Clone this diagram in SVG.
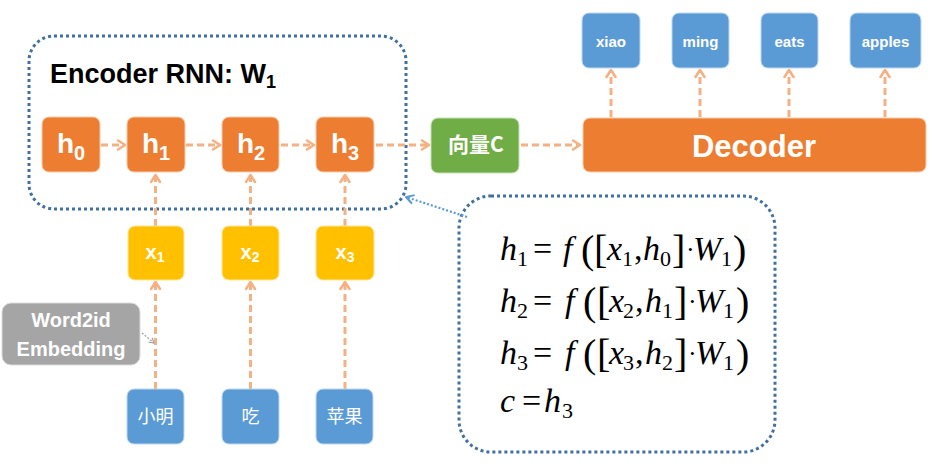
<svg xmlns="http://www.w3.org/2000/svg" width="943" height="466" viewBox="0 0 943 466">
<defs>
<marker id="oa" viewBox="0 0 12 12" refX="10" refY="6" markerWidth="12" markerHeight="12" markerUnits="userSpaceOnUse" orient="auto">
<path d="M3,1.5 L10,6 L3,10.5" fill="none" stroke="#F4B183" stroke-width="2.6" stroke-linecap="round" stroke-linejoin="round"/>
</marker>
<marker id="ba" viewBox="0 0 12 12" refX="10" refY="6" markerWidth="12" markerHeight="12" markerUnits="userSpaceOnUse" orient="auto">
<path d="M3,2 L10,6 L3,10" fill="none" stroke="#5B9BD5" stroke-width="2" stroke-linecap="round" stroke-linejoin="round"/>
</marker>
<marker id="ga" viewBox="0 0 10 10" refX="8" refY="5" markerWidth="8" markerHeight="8" markerUnits="userSpaceOnUse" orient="auto">
<path d="M2,1.5 L8,5 L2,8.5" fill="none" stroke="#A5A5A5" stroke-width="1.5"/>
</marker>
</defs>
<style>
.or{fill:#ED7D31;stroke:#F8CBAD;stroke-width:1}
.ye{fill:#FFC000;stroke:#FFE699;stroke-width:1}
.bl{fill:#5B9BD5;stroke:#BDD7EE;stroke-width:1}
.gr{fill:#70AD47;stroke:#C5E0B4;stroke-width:1}
.gy{fill:#A5A5A5;stroke:#DBDBDB;stroke-width:1}
.lab{font-family:"Liberation Sans","Noto Sans",Arial,sans-serif;font-weight:bold;fill:#fff;text-anchor:middle}
.cjk{font-family:"Noto Sans CJK SC","Noto Sans",sans-serif;fill:#fff;text-anchor:middle}
.dash{fill:none;stroke:#F4B183;stroke-width:3;stroke-dasharray:7 4;marker-end:url(#oa)}
.dot{fill:none;stroke:#41719C;stroke-width:3;stroke-dasharray:3 3}
.m{font-family:"Liberation Serif","Times New Roman",serif;font-size:34px;fill:#000}
.i{font-style:italic}
.s{font-size:22px}
.p{font-size:40px}
.d{font-size:26px}
</style>

<g id="encoder-frame">
<rect x="29" y="36" width="377" height="173" rx="25" class="dot"/>
<text x="50" y="83" font-family="Liberation Sans,Arial,sans-serif" font-weight="bold" font-size="27" fill="#000">Encoder RNN: W<tspan font-size="18" dy="5">1</tspan></text>
</g>

<g id="formula-box">
<rect x="459" y="196" width="316" height="256" rx="32" class="dot"/>
<text class="m"><tspan class="i" x="500" y="260">h</tspan><tspan class="s" x="517" y="266">1</tspan><tspan x="533" y="260">=</tspan><tspan class="i" x="563" y="260">f</tspan><tspan class="p" x="581" y="263">(</tspan><tspan class="p" x="594" y="263">[</tspan><tspan class="i" x="607" y="260">x</tspan><tspan class="s" x="622" y="266">1</tspan><tspan x="634" y="260">,</tspan><tspan class="i" x="643" y="260">h</tspan><tspan class="s" x="660" y="266">0</tspan><tspan class="p" x="672" y="263">]</tspan><tspan class="d" x="686" y="258">·</tspan><tspan class="i" x="693" y="260">W</tspan><tspan class="s" x="721" y="266">1</tspan><tspan class="p" x="733" y="263">)</tspan></text>
<text class="m"><tspan class="i" x="500" y="312">h</tspan><tspan class="s" x="517" y="318">2</tspan><tspan x="533" y="312">=</tspan><tspan class="i" x="565" y="312">f</tspan><tspan class="p" x="583" y="315">(</tspan><tspan class="p" x="597" y="315">[</tspan><tspan class="i" x="609" y="312">x</tspan><tspan class="s" x="623" y="318">2</tspan><tspan x="635" y="312">,</tspan><tspan class="i" x="645" y="312">h</tspan><tspan class="s" x="662" y="318">1</tspan><tspan class="p" x="674" y="315">]</tspan><tspan class="d" x="688" y="310">·</tspan><tspan class="i" x="695" y="312">W</tspan><tspan class="s" x="723" y="318">1</tspan><tspan class="p" x="736" y="315">)</tspan></text>
<text class="m"><tspan class="i" x="500" y="364">h</tspan><tspan class="s" x="517" y="370">3</tspan><tspan x="533" y="364">=</tspan><tspan class="i" x="565" y="364">f</tspan><tspan class="p" x="583" y="367">(</tspan><tspan class="p" x="597" y="367">[</tspan><tspan class="i" x="609" y="364">x</tspan><tspan class="s" x="623" y="370">3</tspan><tspan x="635" y="364">,</tspan><tspan class="i" x="645" y="364">h</tspan><tspan class="s" x="662" y="370">2</tspan><tspan class="p" x="674" y="367">]</tspan><tspan class="d" x="688" y="362">·</tspan><tspan class="i" x="695" y="364">W</tspan><tspan class="s" x="723" y="370">1</tspan><tspan class="p" x="736" y="367">)</tspan></text>
<text class="m"><tspan class="i" x="500" y="412">c</tspan><tspan x="522" y="412">=</tspan><tspan class="i" x="544" y="412">h</tspan><tspan class="s" x="562" y="418">3</tspan></text>
</g>

<g id="connectors">
<line x1="101" y1="145" x2="125" y2="145" class="dash"/>
<line x1="186" y1="145" x2="220" y2="145" class="dash"/>
<line x1="281" y1="145" x2="314" y2="145" class="dash"/>
<line x1="376" y1="145" x2="429" y2="145" class="dash"/>
<line x1="521" y1="145" x2="580" y2="145" class="dash"/>
<line x1="155.5" y1="226" x2="155.5" y2="175" class="dash"/>
<line x1="250.5" y1="226" x2="250.5" y2="175" class="dash"/>
<line x1="345" y1="226" x2="345" y2="175" class="dash"/>
<line x1="155.5" y1="389" x2="155.5" y2="282" class="dash"/>
<line x1="250.5" y1="389" x2="250.5" y2="282" class="dash"/>
<line x1="345" y1="389" x2="345" y2="282" class="dash"/>
<line x1="611" y1="117" x2="611" y2="70" class="dash"/>
<line x1="700" y1="117" x2="700" y2="70" class="dash"/>
<line x1="789" y1="117" x2="789" y2="70" class="dash"/>
<line x1="885" y1="117" x2="885" y2="70" class="dash"/>
<line x1="467" y1="217" x2="406" y2="197" fill="none" stroke="#5B9BD5" stroke-width="2.2" stroke-dasharray="2 2" marker-end="url(#ba)"/>
<line x1="142" y1="333" x2="154" y2="343" fill="none" stroke="#A5A5A5" stroke-width="1.3" stroke-dasharray="2 1.5" marker-end="url(#ga)"/>
</g>

<g id="h0"><rect x="42" y="117" width="58" height="55" rx="7" class="or"/><text class="lab" x="71" y="153" font-size="28">h<tspan font-size="20" dy="7">0</tspan></text></g>
<g id="h1"><rect x="127" y="117" width="58" height="55" rx="7" class="or"/><text class="lab" x="156" y="153" font-size="28">h<tspan font-size="20" dy="7">1</tspan></text></g>
<g id="h2"><rect x="222" y="117" width="57" height="55" rx="7" class="or"/><text class="lab" x="251" y="153" font-size="28">h<tspan font-size="20" dy="7">2</tspan></text></g>
<g id="h3"><rect x="316" y="117" width="58" height="55" rx="7" class="or"/><text class="lab" x="345" y="153" font-size="28">h<tspan font-size="20" dy="7">3</tspan></text></g>

<g id="vecC"><rect x="431" y="118" width="88" height="55" rx="7" class="gr"/><text class="cjk" x="476" y="152" font-size="21" font-weight="bold">向量C</text></g>
<g id="decoder"><rect x="583" y="118" width="343" height="54" rx="7" class="or"/><text class="lab" x="754" y="157" font-size="31">Decoder</text></g>

<g id="out-xiao"><rect x="582" y="13" width="58" height="55" rx="7" class="bl"/><text class="lab" x="611" y="47" font-size="15">xiao</text></g>
<g id="out-ming"><rect x="672" y="13" width="57" height="55" rx="7" class="bl"/><text class="lab" x="700.5" y="47" font-size="15">ming</text></g>
<g id="out-eats"><rect x="761" y="13" width="57" height="55" rx="7" class="bl"/><text class="lab" x="789.5" y="47" font-size="15">eats</text></g>
<g id="out-apples"><rect x="850" y="13" width="71" height="55" rx="7" class="bl"/><text class="lab" x="885.5" y="47" font-size="15">apples</text></g>

<g id="x1"><rect x="128" y="226" width="56" height="54" rx="7" class="ye"/><text class="lab" x="155" y="259" font-size="20">x<tspan font-size="14" dy="3">1</tspan></text></g>
<g id="x2"><rect x="222" y="226" width="57" height="54" rx="7" class="ye"/><text class="lab" x="250" y="259" font-size="20">x<tspan font-size="14" dy="3">2</tspan></text></g>
<g id="x3"><rect x="316" y="226" width="58" height="54" rx="7" class="ye"/><text class="lab" x="345" y="259" font-size="20">x<tspan font-size="14" dy="3">3</tspan></text></g>

<g id="w-xiaoming"><rect x="127" y="389" width="57" height="55" rx="7" class="bl"/><text class="cjk" x="155.5" y="423" font-size="18">小明</text></g>
<g id="w-chi"><rect x="222" y="389" width="57" height="55" rx="7" class="bl"/><text class="cjk" x="250.5" y="423" font-size="18">吃</text></g>
<g id="w-pingguo"><rect x="316" y="389" width="57" height="55" rx="7" class="bl"/><text class="cjk" x="344.5" y="423" font-size="18">苹果</text></g>

<g id="word2id"><rect x="2" y="303" width="138" height="62" rx="9" class="gy"/><text class="lab" x="71" y="327" font-size="20">Word2id</text><text class="lab" x="71" y="356" font-size="20">Embedding</text></g>
</svg>
